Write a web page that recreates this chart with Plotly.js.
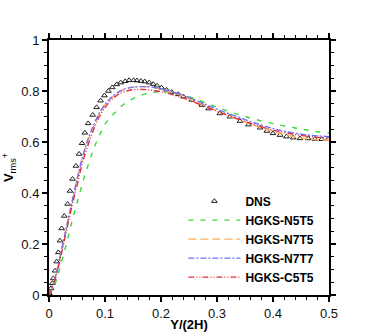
<!DOCTYPE html>
<html>
<head>
<meta charset="utf-8">
<script src="https://cdn.plot.ly/plotly-3.0.1.min.js"></script>
<style>
  html, body { margin: 0; padding: 0; background: #fff; }
  #chart { width: 374px; height: 332px; }
</style>
</head>
<body>
<div id="chart"></div>
<script>
// DNS reference points
var dnsX = [0.0006, 0.0036, 0.006, 0.0077, 0.0107, 0.0137, 0.0167, 0.0196, 0.0226, 0.0274,
            0.0333, 0.0375, 0.042, 0.048, 0.0536, 0.059, 0.064, 0.070, 0.078, 0.085,
            0.092, 0.099, 0.106, 0.113, 0.121, 0.128, 0.136, 0.143, 0.151, 0.157,
            0.164, 0.171, 0.179, 0.186, 0.193, 0.201, 0.210, 0.219, 0.231, 0.240,
            0.255, 0.273, 0.285, 0.305, 0.323, 0.341, 0.356, 0.377, 0.389, 0.400,
            0.4125, 0.424, 0.436, 0.448, 0.463, 0.475, 0.487, 0.499];
var dnsY = [0.007, 0.026, 0.046, 0.065, 0.095, 0.131, 0.167, 0.213, 0.261, 0.310,
            0.357, 0.408, 0.455, 0.506, 0.553, 0.595, 0.636, 0.673, 0.706, 0.736,
            0.762, 0.782, 0.800, 0.814, 0.826, 0.833, 0.838, 0.842, 0.842, 0.841,
            0.839, 0.837, 0.833, 0.827, 0.821, 0.813, 0.804, 0.796, 0.787, 0.778,
            0.765, 0.745, 0.731, 0.712, 0.699, 0.682, 0.668, 0.656, 0.643, 0.634,
            0.627, 0.621, 0.617, 0.614, 0.614, 0.612, 0.611, 0.611];

// HGKS curves on a common grid
var gridX = [0, 0.005, 0.01, 0.015, 0.02, 0.025, 0.03, 0.035, 0.04, 0.045,
             0.05, 0.06, 0.07, 0.08, 0.09, 0.1, 0.11, 0.12, 0.13, 0.14,
             0.15, 0.16, 0.17, 0.18, 0.19, 0.2, 0.22, 0.24, 0.26, 0.28,
             0.3, 0.32, 0.34, 0.36, 0.38, 0.4, 0.42, 0.44, 0.46, 0.48, 0.5];

var n5t5 = [0, 0.015, 0.04, 0.07, 0.11, 0.15, 0.19, 0.235, 0.28, 0.32,
            0.36, 0.44, 0.51, 0.575, 0.625, 0.67, 0.698, 0.72, 0.742, 0.757,
            0.77, 0.78, 0.788, 0.793, 0.796, 0.797, 0.794, 0.784, 0.770, 0.753,
            0.737, 0.721, 0.706, 0.694, 0.682, 0.672, 0.663, 0.655, 0.647, 0.640, 0.635];

var n7t5 = [0, 0.025, 0.06, 0.10, 0.15, 0.20, 0.25, 0.30, 0.35, 0.40,
            0.45, 0.54, 0.61, 0.665, 0.712, 0.745, 0.77, 0.789, 0.802, 0.81,
            0.815, 0.817, 0.817, 0.816, 0.812, 0.806, 0.794, 0.779, 0.760, 0.741,
            0.722, 0.704, 0.687, 0.670, 0.655, 0.641, 0.629, 0.620, 0.613, 0.609, 0.607];

var n7t7 = [0, 0.026, 0.062, 0.103, 0.153, 0.204, 0.254, 0.304, 0.354, 0.404,
            0.453, 0.543, 0.613, 0.668, 0.714, 0.747, 0.772, 0.79, 0.803, 0.811,
            0.815, 0.817, 0.817, 0.816, 0.813, 0.808, 0.797, 0.783, 0.765, 0.747,
            0.729, 0.712, 0.696, 0.680, 0.666, 0.653, 0.642, 0.634, 0.628, 0.624, 0.621];

var c5t5 = [0, 0.022, 0.055, 0.095, 0.14, 0.19, 0.24, 0.29, 0.34, 0.385,
            0.43, 0.52, 0.59, 0.65, 0.70, 0.735, 0.762, 0.781, 0.794, 0.801,
            0.805, 0.806, 0.806, 0.804, 0.801, 0.797, 0.786, 0.772, 0.755, 0.738,
            0.721, 0.704, 0.688, 0.673, 0.659, 0.647, 0.637, 0.629, 0.623, 0.618, 0.615];

var names = ['DNS', 'HGKS-N5T5', 'HGKS-N7T5', 'HGKS-N7T7', 'HGKS-C5T5'];

var traces = [
    {
        x: dnsX, y: dnsY, name: names[0],
        mode: 'markers', type: 'scatter',
        marker: { symbol: 'triangle-up-open', size: 5, color: '#222', line: { width: 1 } }
    },
    {
        x: gridX, y: n5t5, name: names[1],
        mode: 'lines', type: 'scatter',
        line: { color: '#3ad83a', width: 1.4, dash: '5px,7px', shape: 'spline' }
    },
    {
        x: gridX, y: n7t5, name: names[2],
        mode: 'lines', type: 'scatter',
        line: { color: '#ffae5a', width: 1.4, dash: '8px,4px', shape: 'spline' }
    },
    {
        x: gridX, y: n7t7, name: names[3],
        mode: 'lines', type: 'scatter',
        line: { color: '#6f6fff', width: 1.4, dash: '6px,2px,2px,2px', shape: 'spline' }
    },
    {
        x: gridX, y: c5t5, name: names[4],
        mode: 'lines', type: 'scatter',
        line: { color: '#e0303a', width: 1.4, dash: '6px,2px,1px,2px,1px,2px', shape: 'spline' }
    }
];

var axisCommon = {
    showline: true, linecolor: '#000', linewidth: 2,
    mirror: 'ticks', ticks: 'outside', ticklen: 5, tickwidth: 1.5, tickcolor: '#000',
    showgrid: false, zeroline: false,
    tickfont: { family: 'Liberation Sans, Arial, sans-serif', size: 13, color: '#111' }
};

var layout = {
    width: 374, height: 332,
    margin: { l: 49, r: 45, t: 40, b: 37 },
    paper_bgcolor: '#fff', plot_bgcolor: '#fff',
    font: { family: 'Liberation Sans, Arial, sans-serif', color: '#000' },
    xaxis: Object.assign({}, axisCommon, {
        range: [0, 0.5], dtick: 0.1, tick0: 0,
        minor: { dtick: 0.02, ticks: 'outside', ticklen: 3, tickcolor: '#000', tickwidth: 1.2 },
        title: { text: '<b>Y/(2H)</b>', standoff: 3, font: { size: 13 } }
    }),
    yaxis: Object.assign({}, axisCommon, {
        range: [0, 1], dtick: 0.2, tick0: 0,
        minor: { dtick: 0.05, ticks: 'outside', ticklen: 3, tickcolor: '#000', tickwidth: 1.2 },
        title: { text: '<b>V</b><sub>rms</sub><sup>+</sup>', standoff: 6, font: { size: 13 } }
    }),
    showlegend: true,
    legend: {
        x: 0.48, y: 0.425, xanchor: 'left', yanchor: 'top',
        bgcolor: 'rgba(0,0,0,0)',
        itemwidth: 52,
        tracegroupgap: 0,
        font: { size: 12, family: 'Liberation Sans, Arial, sans-serif', weight: 'bold' }
    }
};

Plotly.newPlot('chart', traces, layout, { displayModeBar: false, staticPlot: true });
</script>
</body>
</html>
